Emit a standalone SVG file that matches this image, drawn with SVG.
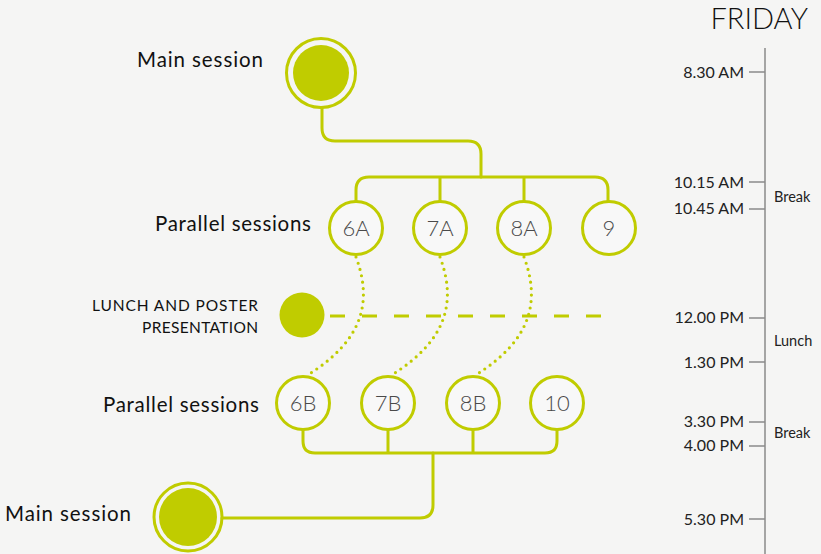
<svg xmlns="http://www.w3.org/2000/svg" width="821" height="554" viewBox="0 0 821 554">
<defs>
<style>
.bg{fill:#f5f5f4}
.ln{fill:none;stroke:#c0cc00;stroke-width:3;stroke-linecap:round;stroke-linejoin:round}
.dot{fill:none;stroke:#c0cc00;stroke-width:3.2;stroke-linecap:round;stroke-dasharray:0 6.5}
.dash{fill:none;stroke:#c0cc00;stroke-width:3;stroke-dasharray:15 17}
.ring{fill:none;stroke:#c0cc00;stroke-width:3}
.fill{fill:#c0cc00}
.sess{fill:#f8f8f8;stroke:#c0cc00;stroke-width:3}
.num{font-family:Lato,"Liberation Sans",sans-serif;font-weight:300;font-size:22px;fill:#4a4a4a;text-anchor:middle}
.lbl{font-family:Lato,"Liberation Sans",sans-serif;font-weight:400;font-size:20.5px;fill:#111}
.cap{font-family:Lato,"Liberation Sans",sans-serif;font-weight:400;font-size:15.5px;fill:#111;text-anchor:end}
.time{font-family:Lato,"Liberation Sans",sans-serif;font-weight:400;font-size:16px;fill:#222;text-anchor:end}
.note{font-family:Lato,"Liberation Sans",sans-serif;font-weight:400;font-size:14.5px;fill:#222}
.tl{stroke:#8a8a8a;stroke-width:1.5;fill:none}
</style>
</defs>
<rect class="bg" x="0" y="0" width="821" height="554"/>

<g id="connectors">
<path class="ln" d="M322,108 L322,128 Q322,141 335,141 L468,141 Q481,141 481,154 L481,177"/>
<path class="ln" d="M356,201 L356,190 Q356,177 369,177 L595,177 Q608,177 608,190 L608,201 M440,177 L440,201 M524,177 L524,201"/>
<path class="dot" d="M356,257 C372,300 365,340 306,376"/>
<path class="dot" d="M440,257 C456,300 449,340 390,376"/>
<path class="dot" d="M524,257 C540,300 533,340 474,376"/>
<path class="dash" d="M330,316 L606,316"/>
<path class="ln" d="M303,430 L303,441 Q303,453 315,453 L545,453 Q557,453 557,441 L557,430 M388,430 L388,453 M473,430 L473,453"/>
<path class="ln" d="M433,453 L433,505 Q433,518 420,518 L222,518"/>
</g>

<g id="main-top">
<circle class="ring" cx="321" cy="73" r="34.5"/>
<circle class="fill" cx="321" cy="73" r="28"/>
<text class="lbl" x="137" y="67" textLength="126" lengthAdjust="spacing">Main session</text>
</g>

<g id="parallel-a">
<text class="lbl" x="155" y="231" textLength="156" lengthAdjust="spacing">Parallel sessions</text>
</g>
<g id="s6A"><circle class="sess" cx="356" cy="228" r="26.5"/><text class="num" x="356" y="236">6A</text></g>
<g id="s7A"><circle class="sess" cx="440" cy="228" r="26.5"/><text class="num" x="440" y="236">7A</text></g>
<g id="s8A"><circle class="sess" cx="524" cy="228" r="26.5"/><text class="num" x="524" y="236">8A</text></g>
<g id="s9"><circle class="sess" cx="609" cy="228" r="26.5"/><text class="num" x="609" y="236">9</text></g>

<g id="lunch">
<circle class="fill" cx="302" cy="315" r="22.5"/>
<text class="cap" x="258" y="311" textLength="166" lengthAdjust="spacing">LUNCH AND POSTER</text>
<text class="cap" x="258" y="333" textLength="116" lengthAdjust="spacing">PRESENTATION</text>
</g>

<g id="parallel-b">
<text class="lbl" x="103" y="412" textLength="156" lengthAdjust="spacing">Parallel sessions</text>
</g>
<g id="s6B"><circle class="sess" cx="303" cy="403" r="26.5"/><text class="num" x="303" y="411">6B</text></g>
<g id="s7B"><circle class="sess" cx="388" cy="403" r="26.5"/><text class="num" x="388" y="411">7B</text></g>
<g id="s8B"><circle class="sess" cx="473" cy="403" r="26.5"/><text class="num" x="473" y="411">8B</text></g>
<g id="s10"><circle class="sess" cx="557" cy="403" r="26.5"/><text class="num" x="557" y="411">10</text></g>

<g id="main-bottom">
<circle class="ring" cx="188" cy="517" r="34"/>
<circle class="fill" cx="188" cy="517" r="29"/>
<text class="lbl" x="5" y="521" textLength="126" lengthAdjust="spacing">Main session</text>
</g>

<g id="timeline">
<text x="808" y="29" text-anchor="end" style="font-family:Lato,'Liberation Sans',sans-serif;font-weight:300;font-size:29px;fill:#111">FRIDAY</text>
<path class="tl" d="M765,48 L765,554"/>
<path class="tl" d="M749,72 H765 M749,182 H765 M749,209 H765 M749,318 H765 M749,362 H765 M749,422 H765 M749,446 H765 M749,519 H765"/>
<text class="time" x="744" y="78">8.30 AM</text>
<text class="time" x="744" y="188">10.15 AM</text>
<text class="time" x="744" y="214">10.45 AM</text>
<text class="note" x="774" y="202">Break</text>
<text class="time" x="744" y="323">12.00 PM</text>
<text class="note" x="774" y="346">Lunch</text>
<text class="time" x="744" y="368">1.30 PM</text>
<text class="time" x="744" y="427">3.30 PM</text>
<text class="note" x="774" y="438">Break</text>
<text class="time" x="744" y="451">4.00 PM</text>
<text class="time" x="744" y="525">5.30 PM</text>
</g>
</svg>
